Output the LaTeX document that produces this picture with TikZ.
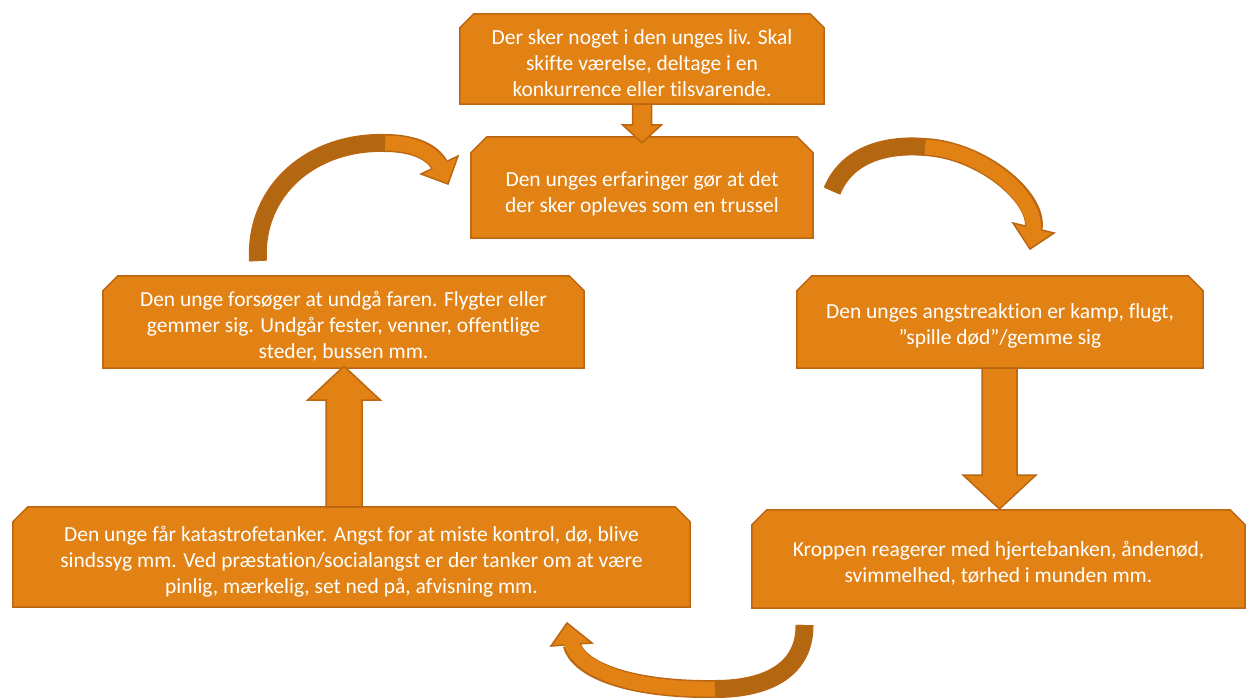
\documentclass[tikz,border=0pt]{standalone}
\usepackage{fontspec}
\setmainfont{Carlito}[Ligatures=NoCommon]
\usetikzlibrary{backgrounds,calc}
\definecolor{orfill}{RGB}{226,130,20}
\definecolor{orline}{RGB}{186,102,18}
\definecolor{ordark}{RGB}{180,103,17}
\tikzset{
  boxshape/.style={inner sep=0pt},
  boxtext/.style={text=white, align=center, inner sep=0pt,
    font=\fontsize{21.5}{26}\selectfont},
  boxline/.style={fill=orfill, draw=orline, line width=1.5pt, line join=miter},
  blockarrow/.style={fill=orfill, draw=orline, line width=1.5pt, line join=miter},
  bandborder/.style={draw=orline, line width=18pt, line cap=butt},
  bandfill/.style={draw=orfill, line width=15pt, line cap=butt},
  banddark/.style={draw=ordark, line width=15pt, line cap=butt},
  headstyle/.style={fill=orfill, draw=orline, line width=1.5pt, line join=miter},
}
% chamfered outline behind a node
\newcommand\chamferbox[2]{%
  \begin{scope}[on background layer]
    \path[boxline] (#1.south west) -- ([yshift=-#2]#1.north west)
      -- ([xshift=#2]#1.north west) -- ([xshift=-#2]#1.north east)
      -- ([yshift=-#2]#1.north east) -- (#1.south east) -- cycle;
  \end{scope}}
% vertical block arrow: start, tip, shaft half width, head half width, signed head length (canvas)
\newcommand\vblock[5]{%
  \path[blockarrow] let \p1=(#1), \p2=(#2) in
    (\x2-#3,\y1) -- (\x2-#3,\y2+#5) -- (\x2-#4,\y2+#5) -- (\x2,\y2)
    -- (\x2+#4,\y2+#5) -- (\x2+#3,\y2+#5) -- (\x2+#3,\y1) -- cycle;}
\begin{document}
\begin{tikzpicture}[x=1pt,y=-1pt]
\useasboundingbox (0,0) rectangle (1246,697);

% box shapes
\node[boxshape, minimum width=364pt, minimum height=90pt] (b1) at (642,59) {};
\node[boxshape, minimum width=342pt, minimum height=101pt] (b2) at (642,187.5) {};
\node[boxshape, minimum width=406pt, minimum height=92pt] (b3) at (1000,322) {};
\node[boxshape, minimum width=493pt, minimum height=98pt] (b4) at (998.5,559) {};
\node[boxshape, minimum width=481pt, minimum height=92pt] (b5) at (343.5,322) {};
\node[boxshape, minimum width=677pt, minimum height=100pt] (b6) at (351.5,557) {};

\chamferbox{b1}{14pt}
\chamferbox{b2}{16pt}
\chamferbox{b3}{15pt}
\chamferbox{b4}{15pt}
\chamferbox{b5}{15pt}
\chamferbox{b6}{15pt}

% box texts
\node[boxtext] (b1t) at ($(b1.center)+(0,4)$)
  {Der sker noget i den unges liv. Skal\\skifte værelse, deltage i en\\konkurrence eller tilsvarende.};
\node[boxtext] (b2t) at ($(b2.center)+(0,6)$)
  {Den unges erfaringer gør at det\\der sker opleves som en trussel};
\node[boxtext] (b3t) at ($(b3.center)+(0,4)$)
  {Den unges angstreaktion er kamp, flugt,\\”spille død”/gemme sig};
\node[boxtext] (b4t) at ($(b4.center)+(0,4)$)
  {Kroppen reagerer med hjertebanken, åndenød,\\svimmelhed, tørhed i munden mm.};
\node[boxtext] (b5t) at ($(b5.center)+(0,4)$)
  {Den unge forsøger at undgå faren. Flygter eller\\gemmer sig. Undgår fester, venner, offentlige\\steder, bussen mm.};
\node[boxtext] (b6t) at ($(b6.center)+(0,5)$)
  {Den unge får katastrofetanker. Angst for at miste kontrol, dø, blive\\sindssyg mm. Ved præstation/socialangst er der tanker om at være\\pinlig, mærkelig, set ned på, afvisning mm.};

% straight block arrows
\coordinate (t1) at ($(b2.north)+(0,6)$);
\vblock{b1.south}{t1}{9.5pt}{19.5pt}{18pt}
\coordinate (t2) at ($(b3.south -| 999.5,0)!1!(999.5,509)$);
\vblock{b3.south}{t2}{17.5pt}{36.5pt}{34pt}
\coordinate (s3) at ($(b6.north -| 344,0)$);
\coordinate (t3) at ($(b5.south -| 344,0)+(0,-2)$);
\vblock{s3}{t3}{18pt}{36.5pt}{-34pt}

% curved arrow 1: from b5 up to b2
\coordinate (c1s) at (258,261);
\coordinate (c1m) at (385,143);
\coordinate (c1e) at (439.5,165);
\draw[bandborder] (c1s) .. controls (254,190) and (312,141) .. (c1m)
  .. controls (410,143) and (431,150) .. (c1e);
\path[headstyle] (421,174) -- (458,156) -- (448,184) -- cycle;
\draw[bandfill, shorten >=-3pt] (c1m) .. controls (410,143) and (431,150) .. (c1e);
\draw[banddark] (c1s) .. controls (254,190) and (312,141) .. (c1m);

% curved arrow 2: from b2 to b3
\coordinate (c2s) at (832,191);
\coordinate (c2m) at (925,147);
\coordinate (c2e) at (1033.5,228.5);
\draw[bandborder] (c2s) .. controls (848,152) and (890,144) .. (c2m)
  .. controls (982,150) and (1039,198) .. (c2e);
\path[headstyle] (1013,223) -- (1054,233) -- (1030,249) -- cycle;
\draw[bandfill, shorten >=-3pt] (c2m) .. controls (982,150) and (1039,198) .. (c2e);
\draw[banddark] (c2s) .. controls (848,152) and (890,144) .. (c2m);

% curved arrow 3: from b4 to b6
\coordinate (c3s) at (804.5,625);
\coordinate (c3m) at (715,689);
\coordinate (c3e) at (571.5,644);
\draw[bandborder] (c3s) .. controls (805,668) and (770,689) .. (c3m)
  .. controls (630,690) and (578,670) .. (c3e);
\path[headstyle] (551,646) -- (592,643) -- (567,623) -- cycle;
\draw[bandfill, shorten >=-3pt] (c3m) .. controls (630,690) and (578,670) .. (c3e);
\draw[banddark] (c3s) .. controls (805,668) and (770,689) .. (c3m);
\end{tikzpicture}
\end{document}
